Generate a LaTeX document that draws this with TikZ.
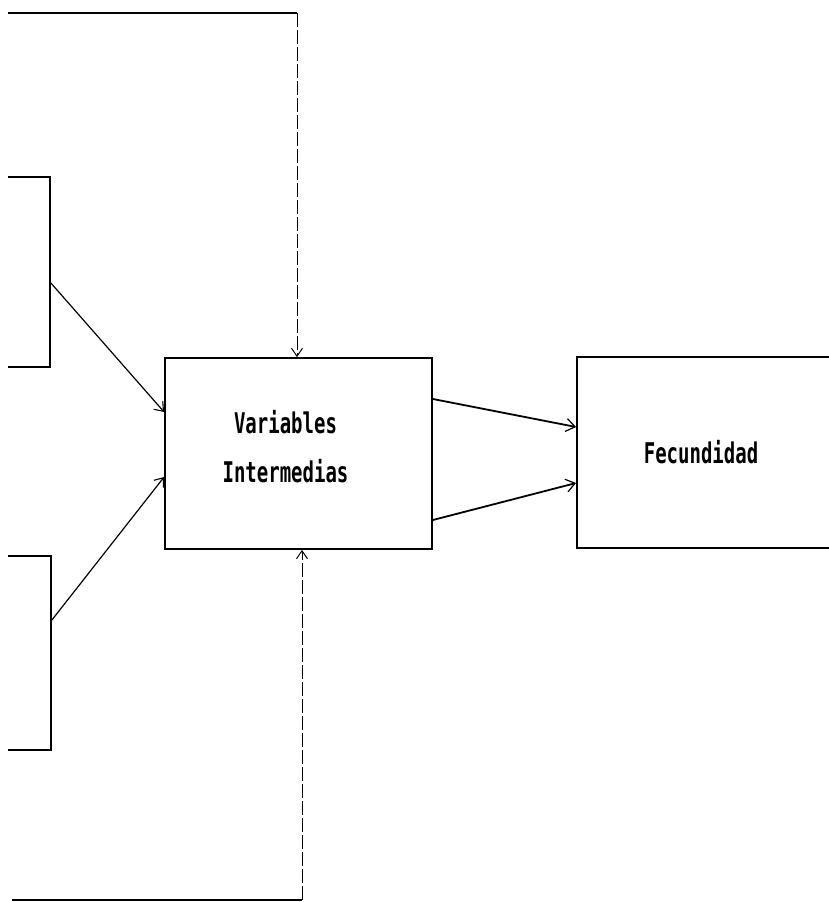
\documentclass[tikz,border=0pt]{standalone}
\usepackage{fontspec}
\newfontfamily\typefont{DejaVu Sans Mono}
\usetikzlibrary{arrows.meta}
\tikzset{
  x=1pt, y=-1pt,
  box/.style={draw, line width=1.8pt, rectangle, inner sep=0pt},
  conn/.style={line width=1.2pt, -{Straight Barb[length=8pt,width=12pt,line width=1.1pt]}},
  bigconn/.style={line width=1.8pt, -{Straight Barb[length=9pt,width=13pt,line width=1.2pt]}},
  vconn/.style={line width=0.9pt, dash pattern=on 14pt off 3pt, -{Straight Barb[length=8pt,width=11pt,line width=1pt]}},
  frame/.style={line width=1.8pt},
  label/.style={inner sep=0pt, font=\typefont\bfseries\fontsize{19}{32.7}\selectfont}
}
\begin{document}
\begin{tikzpicture}
\useasboundingbox (0,0) rectangle (828,902);
\begin{scope}
\clip (8,-10) rectangle (840,912);
% boxes
\node[box, minimum width=267pt, minimum height=191pt] (vi) at (298.5,453.5) {};
\node[box, minimum width=323pt, minimum height=191pt] (fec) at (738.5,452.5) {};
\node[box, minimum width=90pt, minimum height=190pt] (a) at (5,272) {};
\node[box, minimum width=92pt, minimum height=194pt] (b) at (5,653) {};
% texts
\node[label] (vitext) at (285.5,448) {\scalebox{1}[1.5]{\begin{tabular}{@{}c@{}}Variables\\Intermedias\end{tabular}}};
\node[label, anchor=base] (fectext) at (701,463) {\scalebox{1}[1.5]{Fecundidad}};
% left inputs
\draw[conn] ([yshift=-11pt]a.east) -- ([yshift=41.5pt]vi.west);
\draw[conn] ([yshift=33pt]b.east) -- ([yshift=-23.5pt]vi.west);
% to fecundidad
\draw[bigconn] ([yshift=54.5pt]vi.east) -- ([yshift=25.5pt]fec.west);
\draw[bigconn] ([yshift=-66.5pt]vi.east) -- ([yshift=-30.5pt]fec.west);
% top feed
\coordinate (tstart) at (8,13);
\coordinate (tcorner) at (297,13);
\draw[frame] (tstart) -- (tcorner);
\draw[vconn] (tcorner) -- (tcorner |- vi.north);
% bottom feed
\coordinate (bstart) at (12,900);
\coordinate (bcorner) at (302,900);
\draw[frame] (bstart) -- (bcorner);
\draw[vconn] (bcorner) -- (bcorner |- vi.south);
\end{scope}
\end{tikzpicture}
\end{document}
